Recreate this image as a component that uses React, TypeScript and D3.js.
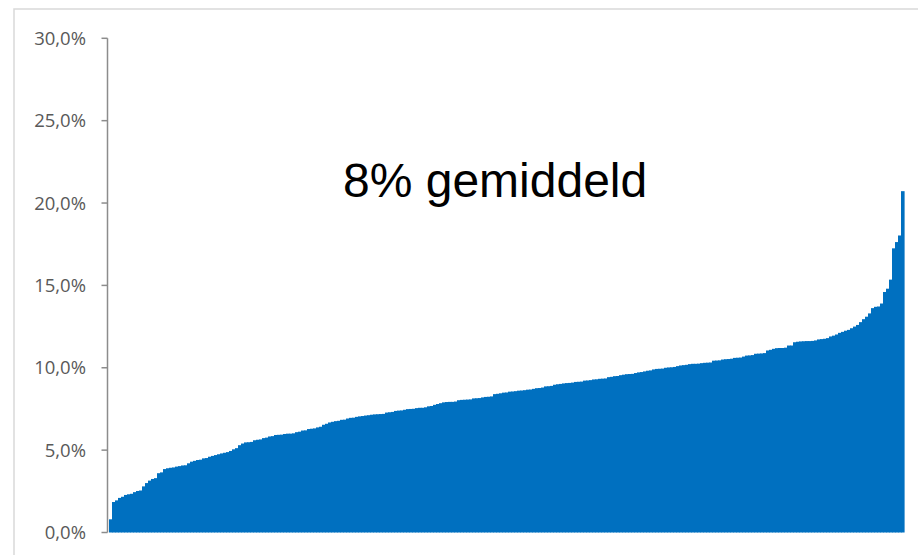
import React from "react";
import * as d3 from "d3";

const values: number[] = [
  0.8, 1.85, 1.95, 2.1, 2.17, 2.28, 2.32, 2.35, 2.45, 2.52,
  2.55, 2.8, 3.0, 3.15, 3.25, 3.3, 3.6, 3.65, 3.85, 3.9,
  3.93, 3.95, 4.0, 4.03, 4.07, 4.08, 4.2, 4.3, 4.35, 4.4,
  4.42, 4.5, 4.52, 4.6, 4.65, 4.7, 4.75, 4.8, 4.84, 4.88,
  4.95, 5.05, 5.12, 5.3, 5.4, 5.47, 5.48, 5.5, 5.6, 5.63,
  5.65, 5.73, 5.76, 5.83, 5.85, 5.92, 5.93, 5.94, 5.98, 6.0,
  6.0, 6.02, 6.09, 6.12, 6.19, 6.2, 6.28, 6.3, 6.32, 6.38,
  6.42, 6.54, 6.6, 6.68, 6.72, 6.76, 6.78, 6.84, 6.85, 6.92,
  6.96, 6.97, 7.02, 7.05, 7.07, 7.1, 7.12, 7.15, 7.17, 7.18,
  7.19, 7.2, 7.28, 7.3, 7.32, 7.38, 7.4, 7.41, 7.45, 7.49,
  7.5, 7.51, 7.55, 7.57, 7.57, 7.6, 7.66, 7.68, 7.75, 7.8,
  7.85, 7.9, 7.92, 7.93, 7.93, 7.95, 8.03, 8.05, 8.06, 8.07,
  8.08, 8.14, 8.15, 8.16, 8.2, 8.23, 8.24, 8.26, 8.4, 8.42,
  8.45, 8.49, 8.5, 8.55, 8.56, 8.58, 8.61, 8.62, 8.64, 8.67,
  8.68, 8.72, 8.76, 8.77, 8.8, 8.87, 8.88, 8.9, 8.97, 9.0,
  9.02, 9.05, 9.07, 9.08, 9.1, 9.14, 9.15, 9.16, 9.22, 9.23,
  9.25, 9.29, 9.3, 9.33, 9.34, 9.35, 9.43, 9.45, 9.49, 9.5,
  9.55, 9.58, 9.61, 9.62, 9.63, 9.68, 9.72, 9.74, 9.78, 9.82,
  9.84, 9.9, 9.93, 9.94, 9.95, 10.0, 10.02, 10.03, 10.05, 10.1,
  10.14, 10.16, 10.18, 10.22, 10.24, 10.24, 10.25, 10.28, 10.3, 10.31,
  10.32, 10.43, 10.44, 10.45, 10.5, 10.52, 10.53, 10.55, 10.6, 10.61,
  10.62, 10.68, 10.74, 10.75, 10.77, 10.85, 10.86, 10.87, 10.89, 11.05,
  11.09, 11.15, 11.19, 11.2, 11.2, 11.22, 11.35, 11.35, 11.55, 11.58,
  11.6, 11.61, 11.62, 11.62, 11.63, 11.66, 11.72, 11.74, 11.76, 11.8,
  11.9, 11.95, 12.02, 12.12, 12.18, 12.25, 12.3, 12.4, 12.5, 12.6,
  12.77, 12.95, 13.1, 13.3, 13.62, 13.7, 13.72, 13.9, 14.6, 14.8,
  15.35, 17.25, 17.63, 18.03, 20.72,
];

const yTicks: number[] = [0, 5, 10, 15, 20, 25, 30];
const tickLabels: string[] = ["0,0%", "5,0%", "10,0%", "15,0%", "20,0%", "25,0%", "30,0%"];
const annotation = "8% gemiddeld";

export default function App() {
  const W = 918;
  const H = 555;
  const axisX = 107.5;
  const x = d3
    .scaleBand<number>()
    .domain(values.map((_, i) => i))
    .range([109, 904])
    .paddingInner(0)
    .paddingOuter(0);
  const y = d3.scaleLinear().domain([0, 30]).range([532.5, 38.3]);

  return (
    <svg
      width={W}
      height={H}
      style={{ position: "absolute", left: 0, top: 0, background: "#fff" }}
    >
      <rect x={14} y={9} width={W + 20} height={H + 20} fill="#fff" stroke="#d9d9d9" strokeWidth={1.5} />
      <g>
        {values.map((v, i) => (
          <rect
            key={i}
            x={x(i)!}
            y={y(v)}
            width={x.bandwidth() + 0.6}
            height={y(0) - y(v)}
            fill="#0070C0"
          />
        ))}
      </g>
      <line x1={axisX} x2={axisX} y1={y(30)} y2={y(0)} stroke="#8c8c8c" strokeWidth={1.5} />
      {yTicks.map((t, i) => (
        <g key={t}>
          <line x1={axisX - 6} x2={axisX} y1={y(t)} y2={y(t)} stroke="#8c8c8c" strokeWidth={1.5} />
          <text
            x={86}
            y={y(t)}
            dy="0.35em"
            textAnchor="end"
            fontFamily="'Open Sans', sans-serif"
            fontSize={18.5}
            fill="#595959"
          >
            {tickLabels[i]}
          </text>
        </g>
      ))}
      <text x={343} y={197} fontFamily="'Liberation Sans', Arial, sans-serif" fontSize={48} fill="#000">
        {annotation}
      </text>
    </svg>
  );
}
